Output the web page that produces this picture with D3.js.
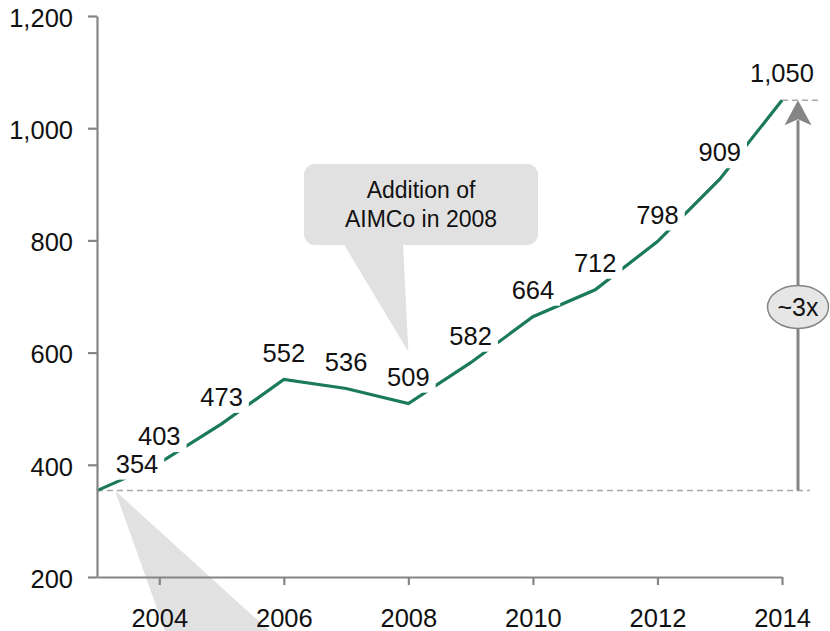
<!DOCTYPE html>
<html>
<head>
<meta charset="utf-8">
<script src="https://cdn.jsdelivr.net/npm/d3@7/dist/d3.min.js"></script>
<style>
  html, body { margin: 0; padding: 0; background: #fff; }
  svg { display: block; font-family: "Liberation Sans", Arial, sans-serif; }
</style>
</head>
<body>
<svg id="chart" width="830" height="631"></svg>
<script>
const years = [2003, 2004, 2005, 2006, 2007, 2008, 2009, 2010, 2011, 2012, 2013, 2014];
const values = [354, 403, 473, 552, 536, 509, 582, 664, 712, 798, 909, 1050];
const yTicks = [200, 400, 600, 800, 1000, 1200];
const xTicks = [2004, 2006, 2008, 2010, 2012, 2014];
const calloutLines = ["Addition of", "AIMCo in 2008"];
const calloutYear = 2008;
const multipleLabel = "~3x";

const svg = d3.select("#chart");
const x = d3.scaleLinear().domain([2003, 2014]).range([97, 782]);
const y = d3.scaleLinear().domain([200, 1200]).range([577, 16]);

const gray = "#858585";
const green = "#1b7a5a";
const fillGray = "#e1e1e1";
const fmt = d3.format(",");

const first = values[0], last = values[values.length - 1];

// bottom pointer triangle (callout below chart, cut off)
const tipX = x(2003) + 18, tipY = y(first) - 8 + 1;
svg.append("path")
  .attr("d", `M${tipX},${y(first) + 0} L${tipX + 55},${645} L${tipX + 170},${645} Z`)
  .attr("fill", fillGray);

// dashed reference lines
svg.append("line")
  .attr("x1", x(2003)).attr("x2", x(2014) + 28)
  .attr("y1", y(first)).attr("y2", y(first))
  .attr("stroke", "#a8a8a8").attr("stroke-width", 1.5).attr("stroke-dasharray", "6,4");
svg.append("line")
  .attr("x1", x(2014)).attr("x2", x(2014) + 38)
  .attr("y1", y(last)).attr("y2", y(last))
  .attr("stroke", "#a8a8a8").attr("stroke-width", 1.5).attr("stroke-dasharray", "6,4");

// data line
const pts = years.map((yr, i) => [yr, values[i]]);
svg.append("path")
  .datum(pts)
  .attr("d", d3.line().x(d => x(d[0])).y(d => y(d[1])))
  .attr("fill", "none").attr("stroke", green).attr("stroke-width", 3.2)
  .attr("stroke-linejoin", "miter");

// value labels with white backgrounds
const lbl = svg.append("g");
pts.forEach((d, i) => {
  const g = lbl.append("g");
  const cx = x(d[0]) + (i === 0 ? 40 : 0);
  const by = y(d[1]) - 18;
  const t = g.append("text")
    .attr("x", cx).attr("y", by)
    .attr("text-anchor", "middle")
    .attr("font-size", 25.5).attr("fill", "#111")
    .text(fmt(d[1]));
  const bb = t.node().getBBox();
  g.insert("rect", "text")
    .attr("x", bb.x - 6).attr("y", bb.y - 1)
    .attr("width", bb.width + 12).attr("height", bb.height + 3)
    .attr("fill", "#fff");
});

// axes
const yAxis = d3.axisLeft(y).tickValues(yTicks).tickSize(9).tickSizeOuter(0).tickPadding(15).tickFormat(fmt);
const gy = svg.append("g").attr("transform", `translate(${x(2003)},0)`).call(yAxis);
const xAxis = d3.axisBottom(x).tickValues(xTicks).tickSize(8).tickSizeOuter(0).tickPadding(24).tickFormat(d3.format("d"));
const gx = svg.append("g").attr("transform", `translate(0,${y(200)})`).call(xAxis);
[gx, gy].forEach(g => {
  g.selectAll("path.domain").attr("stroke", gray).attr("stroke-width", 2.2);
  g.selectAll(".tick line").attr("stroke", gray).attr("stroke-width", 2.2);
  g.selectAll(".tick text").attr("font-size", 25.5).attr("fill", "#111")
    .attr("font-family", "Liberation Sans, Arial, sans-serif");
});
gy.selectAll(".tick text").attr("dy", "0.4em");
gx.selectAll(".tick text").attr("dy", "0.71em");

// callout box
const cbx = 304, cby = 164, cbw = 234, cbh = 81;
const ctx = x(calloutYear), cty = y(values[years.indexOf(calloutYear)]) - 52;
svg.append("path")
  .attr("d", `M${cbx + 39},${cby + cbh - 2} L${ctx},${cty} L${cbx + 99},${cby + cbh - 2} Z`)
  .attr("fill", fillGray);
svg.append("rect")
  .attr("x", cbx).attr("y", cby).attr("width", cbw).attr("height", cbh)
  .attr("rx", 11).attr("fill", fillGray);
calloutLines.forEach((s, i) => {
  svg.append("text")
    .attr("x", cbx + cbw / 2).attr("y", cby + 34 + i * 29)
    .attr("text-anchor", "middle").attr("font-size", 23).attr("fill", "#111")
    .text(s);
});

// growth arrow
const ax = x(2014) + 16;
svg.append("line")
  .attr("x1", ax).attr("x2", ax)
  .attr("y1", y(first)).attr("y2", y(last) + 20)
  .attr("stroke", gray).attr("stroke-width", 3);
svg.append("path")
  .attr("d", `M${ax},${y(last)} L${ax + 13.5},${y(last) + 25} L${ax},${y(last) + 19} L${ax - 13.5},${y(last) + 25} Z`)
  .attr("fill", gray);
const ey = 307;
svg.append("ellipse")
  .attr("cx", ax).attr("cy", ey).attr("rx", 30.5).attr("ry", 21.5)
  .attr("fill", "#e6e6e6").attr("stroke", gray).attr("stroke-width", 1.5);
svg.append("text")
  .attr("x", ax).attr("y", ey + 9)
  .attr("text-anchor", "middle").attr("font-size", 25).attr("fill", "#111")
  .text(multipleLabel);
</script>
</body>
</html>
